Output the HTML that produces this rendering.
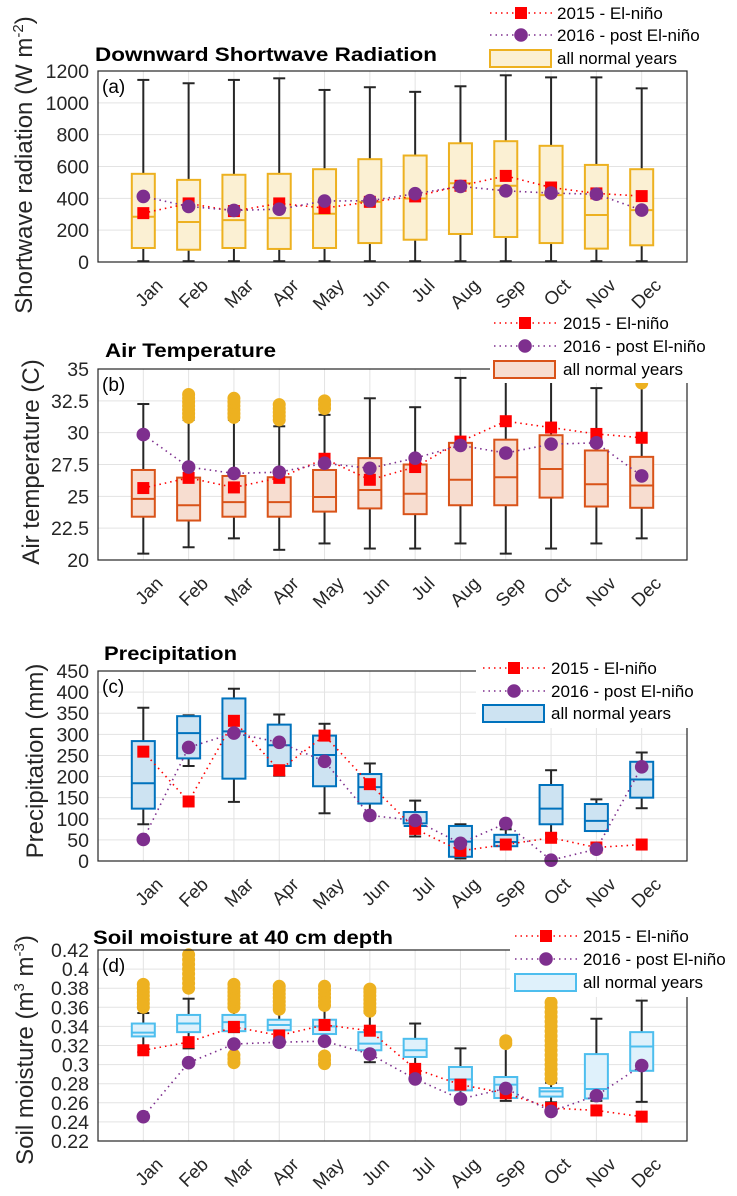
<!DOCTYPE html>
<html><head><meta charset="utf-8"><style>
body{margin:0;background:#fff}
svg{display:block;font-family:"Liberation Sans",Arial,sans-serif}
</style></head><body>
<svg id="fig" width="737" height="1196" viewBox="0 0 737 1196" xmlns="http://www.w3.org/2000/svg"></svg>
<script>
const months=["Jan","Feb","Mar","Apr","May","Jun","Jul","Aug","Sep","Oct","Nov","Dec"];
// Panel a: shortwave
const aWhiskerHi=[1144,1123,1144,1154,1081,1098,1069,1104,1173,1160,1160,1091];
const aWhiskerLo=[5,5,5,5,5,5,5,5,5,5,5,5];
const aQ3=[554,516,548,554,583,646,669,746,759,730,610,583];
const aQ1=[88,77,88,82,88,119,140,176,157,119,84,105];
const aMed=[284,251,263,276,303,378,399,495,479,420,295,326];
const a2015=[307,368,320,368,339,378,412,479,541,468,431,414];
const a2016=[412,349,324,332,383,385,429,475,447,433,426,326];
const aTicks=[0,200,400,600,800,1000,1200];
const aTickLabels=["0","200","400","600","800","1000","1200"];
// Panel b: air temperature
const bWhiskerHi=[32.25,31.0,31.0,30.5,31.4,32.7,32.0,34.3,34.8,34.8,33.5,33.9];
const bWhiskerLo=[20.5,21.0,21.7,20.8,21.3,20.9,20.9,21.3,20.5,20.9,21.3,21.7];
const bQ3=[27.07,26.47,26.6,26.5,27.07,28.0,27.5,29.2,29.45,29.8,28.6,28.1];
const bQ1=[23.4,23.1,23.4,23.4,23.8,24.05,23.6,24.3,24.3,24.9,24.2,24.1];
const bMed=[24.8,24.3,24.55,24.55,24.95,25.5,25.2,26.3,26.5,27.15,25.95,25.85];
const b2015=[25.65,26.45,25.7,26.45,27.95,26.3,27.3,29.3,30.9,30.4,29.9,29.6];
const b2016=[29.85,27.3,26.8,26.9,27.6,27.2,28.0,29.0,28.4,29.1,29.2,26.6];
const bOutliers=[[],[31.2,31.5,31.8,32.1,32.4,32.7,33.0],[31.2,31.5,31.8,32.1,32.4,32.7],[31.0,31.3,31.6,31.9,32.2],[31.9,32.2,32.5],[],[],[],[],[],[],[33.9]];
const bTicks=[20,22.5,25,27.5,30,32.5,35];
const bTickLabels=["20","22.5","25","27.5","30","32.5","35"];
// Panel c: precipitation
const cWhiskerHi=[363,345,408,347,325,231,143,87,75,215,146,257];
const cWhiskerLo=[87,225,140,202,113,101,58,6,35,65,71,125];
const cQ3=[284,343,385,323,297,206,116,83,62,180,135,235];
const cQ1=[124,243,195,225,177,136,89,10,35,87,71,150];
const cMed=[184,303,307,274,251,175,83,46,45,124,95,193];
const c2015=[259,141,332,215,297,182,76,24,39,55,32,39];
const c2016=[51,269,303,281,236,108,96,42,89,2,28,223];
const cOutliers=[[],[],[],[],[],[],[],[],[],[],[],[]];
const cTicks=[0,50,100,150,200,250,300,350,400,450];
const cTickLabels=["0","50","100","150","200","250","300","350","400","450"];
// Panel d: soil moisture
const dWhiskerHi=[0.354,0.369,0.359,0.363,0.362,0.354,0.343,0.317,0.321,0.281,0.348,0.367];
const dWhiskerLo=[0.313,0.317,0.334,0.325,0.336,0.3025,0.289,0.264,0.262,0.2605,0.262,0.261];
const dQ3=[0.343,0.352,0.352,0.347,0.347,0.334,0.327,0.2975,0.287,0.2755,0.311,0.334];
const dQ1=[0.3295,0.334,0.335,0.336,0.332,0.315,0.308,0.273,0.265,0.2665,0.2645,0.2935];
const dMed=[0.3335,0.343,0.3445,0.3415,0.340,0.322,0.315,0.2845,0.279,0.272,0.2745,0.319];
const d2015=[0.315,0.3235,0.3395,0.3305,0.3415,0.3355,0.2955,0.279,0.27,0.2545,0.252,0.2455];
const d2016=[0.2455,0.302,0.3215,0.3235,0.3245,0.311,0.285,0.264,0.275,0.251,0.2675,0.299];
const dOutliers=[[0.36,0.364,0.368,0.372,0.376,0.38,0.384],[0.38,0.385,0.39,0.395,0.40,0.405,0.41,0.415],[0.302,0.306,0.31,0.36,0.364,0.368,0.372,0.376,0.38,0.384],[0.358,0.362,0.366,0.37,0.374,0.378,0.382],[0.301,0.305,0.309,0.362,0.366,0.37,0.374,0.378,0.382],[0.356,0.36,0.364,0.368,0.372,0.376,0.379],[],[],[0.322,0.325],[0.285,0.29,0.295,0.30,0.305,0.31,0.315,0.32,0.325,0.33,0.335,0.34,0.345,0.35,0.355,0.36,0.365],[],[]];
const dTicks=[0.22,0.24,0.26,0.28,0.3,0.32,0.34,0.36,0.38,0.4,0.42];
const dTickLabels=["0.22","0.24","0.26","0.28","0.3","0.32","0.34","0.36","0.38","0.4","0.42"];

const NS="http://www.w3.org/2000/svg";
const svg=document.getElementById('fig');
function mk(tag,attrs,parent){const e=document.createElementNS(NS,tag);for(const k in attrs)e.setAttribute(k,attrs[k]);(parent||svg).appendChild(e);return e;}

const L=98,R=687;
function xScale(i){return L+(R-L)/13*(i+1);}

function panel(cfg){
  const g=mk('g',{});
  
  
  const T=cfg.top,B=cfg.bottom,ymin=cfg.ticks[0],ymax=cfg.ticks[cfg.ticks.length-1];
  const y=v=>B-(v-ymin)/(ymax-ymin)*(B-T);
  cfg.ticks.forEach((t,k)=>{
    const gl=mk('line',{x1:L,x2:R,y1:y(t),y2:y(t),stroke:'#e3e3e3','stroke-width':1},g);
    
    
    const tl=mk('text',{x:L-9,y:y(t)+7,'text-anchor':'end','font-size':19.5,fill:'#262626'},g);
    tl.textContent=cfg.tickLabels[k];
    
    
  });
  months.forEach((m,i)=>{
    const gl=mk('line',{x1:xScale(i),x2:xScale(i),y1:T,y2:B,stroke:'#e3e3e3','stroke-width':1},g);
    
    
    const xl=mk('text',{transform:`translate(${xScale(i)+11},${B+15}) rotate(-45)`,'text-anchor':'end','dominant-baseline':'hanging','font-size':18.5,fill:'#262626'},g);
    xl.textContent=m;
    
    
  });
  const hw=11.5;
  months.forEach((m,i)=>{
    const x=xScale(i);
    const wk=mk('line',{x1:x,x2:x,y1:y(cfg.hi[i]),y2:y(cfg.lo[i]),stroke:'#262626','stroke-width':2},g);
    
    
    [cfg.hi[i],cfg.lo[i]].forEach(v=>{
      const c=mk('line',{x1:x-6,x2:x+6,y1:y(v),y2:y(v),stroke:'#262626','stroke-width':2},g);
      
      
    });
    const bx=mk('rect',{x:x-hw,y:y(cfg.q3[i]),width:2*hw,height:y(cfg.q1[i])-y(cfg.q3[i]),fill:cfg.fill,stroke:cfg.edge,'stroke-width':2},g);
    
    
    const md=mk('line',{x1:x-hw,x2:x+hw,y1:y(cfg.med[i]),y2:y(cfg.med[i]),stroke:cfg.edge,'stroke-width':2},g);
    
    
    (cfg.out[i]||[]).forEach(v=>{
      const o=mk('circle',{cx:x,cy:y(v),r:5.5,fill:cfg.outFill,stroke:'#edb120','stroke-width':2},g);
      
      
    });
  });
  const p15=cfg.s15.map((v,i)=>xScale(i)+','+y(v)).join(' ');
  const p16=cfg.s16.map((v,i)=>xScale(i)+','+y(v)).join(' ');
  const l15=mk('polyline',{points:p15,fill:'none',stroke:'#ff0000','stroke-width':1.6,'stroke-dasharray':'1.5 4'},g);
  
  
  const l16=mk('polyline',{points:p16,fill:'none',stroke:'#7e2f8e','stroke-width':1.6,'stroke-dasharray':'1.5 4'},g);
  
  
  cfg.s15.forEach((v,i)=>{
    const r=mk('rect',{x:xScale(i)-6,y:y(v)-6,width:12,height:12,fill:'#ff0000'},g);
    
    
  });
  cfg.s16.forEach((v,i)=>{
    const c=mk('circle',{cx:xScale(i),cy:y(v),r:6.8,fill:'#7e2f8e'},g);
    
    
  });
  const fr=mk('rect',{x:L,y:T,width:R-L,height:B-T,fill:'none',stroke:'#262626','stroke-width':1.2},g);
  
  
  const pl=mk('text',{x:L+4,y:T+22,'font-size':19,fill:'#000'},g);
  pl.textContent=cfg.letter;
  
  
  const tt=mk('text',{x:cfg.tx,y:cfg.ty,'font-size':19,'font-weight':'bold',fill:'#000',textLength:cfg.tw,lengthAdjust:'spacingAndGlyphs'},g);
  tt.textContent=cfg.title;
  
  
  const yl=mk('text',{transform:`translate(${cfg.ylx},${cfg.yly}) rotate(-90)`,'text-anchor':'middle','font-size':24,fill:'#262626'},g);
  yl.innerHTML=cfg.ylabel;
  
  
  const lg=cfg.leg;
  const lb=mk('rect',{x:lg.bx,y:lg.by,width:lg.bw,height:lg.bh,fill:'#fff'},g);
  
  
  const rows=[lg.y1,lg.y2,lg.y3];
  const e1=mk('g',{},g);
  
  
  mk('line',{x1:lg.lx,x2:lg.lx+62,y1:rows[0],y2:rows[0],stroke:'#ff0000','stroke-width':1.6,'stroke-dasharray':'1.5 4'},e1);
  mk('rect',{x:lg.lx+25,y:rows[0]-6,width:12,height:12,fill:'#ff0000'},e1);
  const t1=mk('text',{x:lg.tx,y:rows[0]+6,'font-size':17,fill:'#000'},e1);t1.textContent='2015 - El-niño';
  const e2=mk('g',{},g);
  
  
  mk('line',{x1:lg.lx,x2:lg.lx+62,y1:rows[1],y2:rows[1],stroke:'#7e2f8e','stroke-width':1.6,'stroke-dasharray':'1.5 4'},e2);
  mk('circle',{cx:lg.lx+31,cy:rows[1],r:6.8,fill:'#7e2f8e'},e2);
  const t2=mk('text',{x:lg.tx,y:rows[1]+6,'font-size':17,fill:'#000'},e2);t2.textContent='2016 - post El-niño';
  const e3=mk('g',{},g);
  
  
  mk('rect',{x:lg.lx,y:rows[2]-8,width:61,height:17,fill:cfg.fill,stroke:cfg.edge,'stroke-width':2},e3);
  const t3=mk('text',{x:lg.tx,y:rows[2]+6,'font-size':17,fill:'#000'},e3);t3.textContent='all normal years';
}

panel({name:'shortwave-panel',top:71,bottom:262,ticks:aTicks,tickLabels:aTickLabels,hi:aWhiskerHi,lo:aWhiskerLo,q3:aQ3,q1:aQ1,med:aMed,s15:a2015,s16:a2016,out:[],
  fill:'#fbf0d3',edge:'#edb120',outFill:'#edb120',letter:'(a)',title:'Downward Shortwave Radiation',tx:95,ty:61,tw:342,
  ylabel:'Shortwave radiation (W m<tspan dy="-9" font-size="15">-2</tspan><tspan dy="9">)</tspan>',ylx:32,yly:165,
  leg:{bx:484,by:0,bw:253,bh:70,lx:490,tx:557,y1:13,y2:35,y3:58}});
panel({name:'air-temperature-panel',top:369,bottom:560,ticks:bTicks,tickLabels:bTickLabels,hi:bWhiskerHi,lo:bWhiskerLo,q3:bQ3,q1:bQ1,med:bMed,s15:b2015,s16:b2016,out:bOutliers,
  fill:'#f7ddd0',edge:'#d95319',outFill:'#edb120',letter:'(b)',title:'Air Temperature',tx:105,ty:357,tw:171,
  ylabel:'Air temperature (C)',ylx:39,yly:462,
  leg:{bx:490,by:310,bw:247,bh:73,lx:494,tx:563,y1:323,y2:346,y3:369}});
panel({name:'precipitation-panel',top:671,bottom:861,ticks:cTicks,tickLabels:cTickLabels,hi:cWhiskerHi,lo:cWhiskerLo,q3:cQ3,q1:cQ1,med:cMed,s15:c2015,s16:c2016,out:cOutliers,
  fill:'#cde3f2',edge:'#0072bd',outFill:'#edb120',letter:'(c)',title:'Precipitation',tx:104,ty:660,tw:133,
  ylabel:'Precipitation (mm)',ylx:43,yly:761,
  leg:{bx:476,by:655,bw:212,bh:73,lx:483,tx:551,y1:668,y2:691,y3:713}});
panel({name:'soil-moisture-panel',top:950,bottom:1141,ticks:dTicks,tickLabels:dTickLabels,hi:dWhiskerHi,lo:dWhiskerLo,q3:dQ3,q1:dQ1,med:dMed,s15:d2015,s16:d2016,out:dOutliers,
  fill:'#dff1fb',edge:'#4dbeee',outFill:'#edb120',letter:'(d)',title:'Soil moisture at 40 cm depth',tx:93,ty:944,tw:300,
  ylabel:'Soil moisture (m<tspan dy="-9" font-size="15">3</tspan><tspan dy="9"> m</tspan><tspan dy="-9" font-size="15">-3</tspan><tspan dy="9">)</tspan>',ylx:33,yly:1050,
  leg:{bx:510,by:922,bw:227,bh:75,lx:515,tx:583,y1:936,y2:959,y3:982}});
</script>
</body></html>
